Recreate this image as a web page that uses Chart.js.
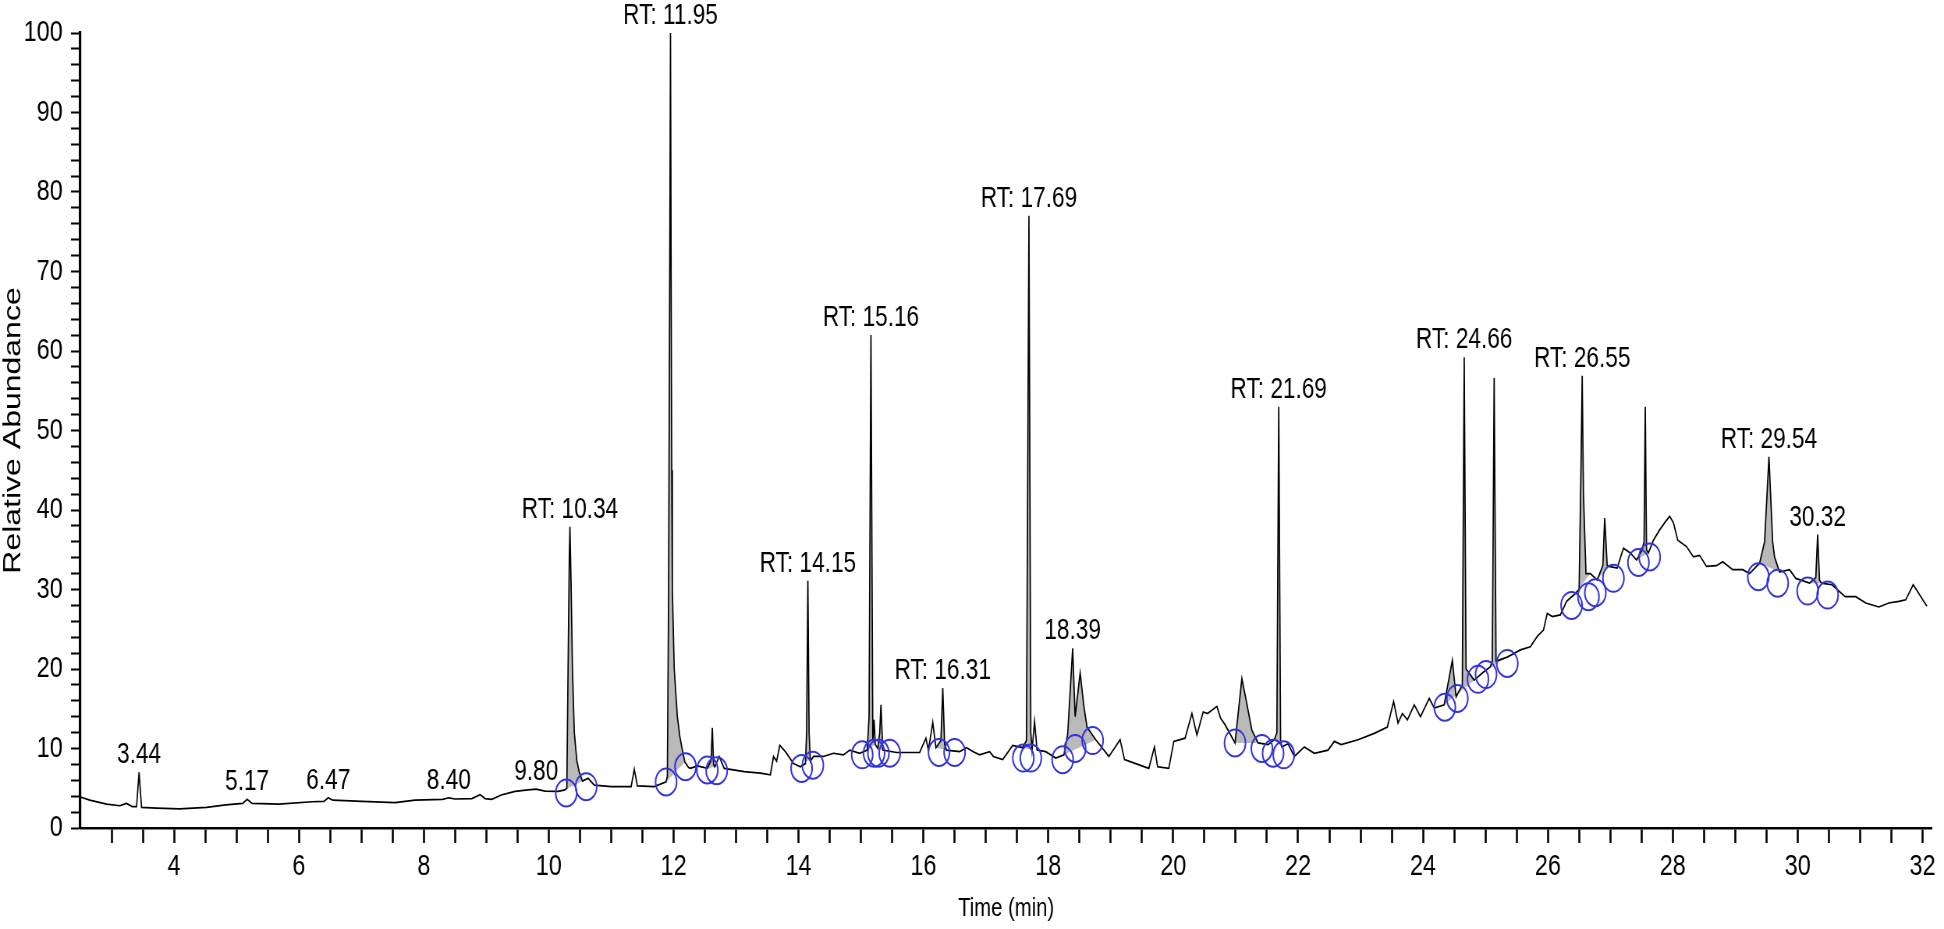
<!DOCTYPE html>
<html>
<head>
<meta charset="utf-8">
<title>Chromatogram</title>
<script src="https://cdn.jsdelivr.net/npm/chart.js@4.4.1/dist/chart.umd.min.js"></script>
<style>
    html, body { margin: 0; padding: 0; background: #fff; overflow: hidden; }
    #chart { display: block; }
</style>
</head>
<body>
<!-- the source picture is squeezed sideways, so draw wide and show it at 1944px -->
<canvas id="chart" width="2492" height="929" style="width:1944px;height:929px"></canvas>
<script>
// TIC trace: retention time (min) and relative abundance (%)
const timeMin = [
    2.50, 2.65, 2.92, 3.13, 3.24, 3.33, 3.40, 3.44, 3.48, 3.72,
    4.09, 4.52, 4.83, 5.10, 5.17, 5.25, 5.68, 6.21, 6.40, 6.47,
    6.54, 7.01, 7.54, 7.86, 8.30, 8.40, 8.50, 8.77, 8.90, 8.98,
    9.09, 9.24, 9.46, 9.67, 9.80, 9.94, 10.15, 10.26, 10.29, 10.31,
    10.33, 10.34, 10.36, 10.38, 10.41, 10.45, 10.49, 10.54, 10.63, 10.73,
    11.00, 11.32, 11.37, 11.42, 11.69, 11.88, 11.90, 11.92, 11.94, 11.95,
    11.96, 11.97, 11.98, 12.01, 12.06, 12.10, 12.14, 12.18, 12.24, 12.27,
    12.38, 12.54, 12.60, 12.62, 12.64, 12.66, 12.73, 12.81, 13.13, 13.39,
    13.55, 13.60, 13.65, 13.70, 13.79, 13.92, 14.03, 14.11, 14.13, 14.15,
    14.17, 14.19, 14.24, 14.40, 14.56, 14.72, 14.82, 14.98, 15.10, 15.13,
    15.16, 15.19, 15.21, 15.23, 15.27, 15.30, 15.32, 15.35, 15.57, 15.94,
    16.04, 16.08, 16.15, 16.20, 16.28, 16.31, 16.34, 16.37, 16.58, 16.69,
    16.80, 16.90, 17.06, 17.12, 17.27, 17.43, 17.59, 17.65, 17.69, 17.72,
    17.74, 17.78, 17.82, 17.96, 18.12, 18.25, 18.31, 18.39, 18.43, 18.51,
    18.57, 18.62, 18.76, 18.86, 18.97, 19.15, 19.22, 19.40, 19.61, 19.70,
    19.75, 19.93, 20.01, 20.19, 20.30, 20.38, 20.48, 20.55, 20.70, 20.76,
    20.83, 20.99, 21.10, 21.17, 21.26, 21.36, 21.52, 21.62, 21.66, 21.69,
    21.72, 21.74, 21.84, 21.94, 22.10, 22.26, 22.48, 22.58, 22.69, 22.96,
    23.22, 23.43, 23.53, 23.60, 23.67, 23.75, 23.86, 23.96, 24.10, 24.18,
    24.34, 24.47, 24.53, 24.63, 24.66, 24.69, 24.82, 24.95, 25.08, 25.11,
    25.14, 25.17, 25.35, 25.56, 25.72, 25.83, 25.93, 25.99, 26.07, 26.20,
    26.30, 26.44, 26.50, 26.53, 26.55, 26.57, 26.61, 26.68, 26.79, 26.88,
    26.91, 26.95, 26.98, 27.11, 27.21, 27.32, 27.42, 27.51, 27.54, 27.56,
    27.58, 27.61, 27.69, 27.79, 27.88, 27.95, 28.01, 28.08, 28.22, 28.33,
    28.43, 28.54, 28.70, 28.80, 28.96, 29.12, 29.23, 29.39, 29.47, 29.54,
    29.60, 29.63, 29.71, 29.87, 29.97, 30.19, 30.29, 30.32, 30.35, 30.38,
    30.55, 30.76, 30.93, 31.09, 31.30, 31.46, 31.62, 31.73, 31.85, 31.94,
    32.07
];
const abundance = [
    3.9, 3.5, 3.0, 2.8, 3.1, 2.7, 2.7, 7.0, 2.6, 2.5,
    2.4, 2.6, 2.9, 3.1, 3.6, 3.1, 3.0, 3.3, 3.35, 3.8,
    3.5, 3.35, 3.2, 3.5, 3.6, 3.8, 3.65, 3.7, 4.2, 3.7,
    3.6, 4.15, 4.6, 4.8, 4.9, 4.65, 4.6, 4.8, 5.0, 20,
    34, 37.9, 30, 20, 12, 8.5, 7.0, 5.9, 6.25, 5.4,
    5.2, 5.2, 7.4, 5.3, 5.2, 5.8, 6.5, 30, 75, 100,
    70, 45, 30, 20, 14, 11.5, 9.8, 8.3, 7.6, 7.5,
    7.8, 7.5, 8.5, 12.6, 8.0, 7.7, 9.0, 7.5, 7.1, 6.9,
    6.7, 9.0, 8.4, 10.4, 9.6, 8.1, 7.7, 8.1, 12, 31.1,
    12, 8.4, 9.0, 9.0, 9.4, 9.2, 9.8, 9.4, 9.8, 14,
    62, 11, 13.6, 10.5, 10.0, 12, 15.5, 9.8, 9.5, 9.5,
    11.3, 9.8, 13.3, 10.1, 11, 17.6, 10.5, 9.8, 9.6, 10.1,
    9.6, 9.2, 9.6, 9.0, 8.6, 10.4, 10.1, 11, 77, 12,
    9.8, 13.4, 9.8, 9.6, 8.8, 9.2, 11.8, 22.6, 14, 19.5,
    15.3, 12.7, 11.1, 10.1, 9.0, 11.1, 8.6, 8.1, 7.5, 10.2,
    7.7, 7.5, 10.9, 11.3, 14.4, 11.7, 14.6, 14.4, 15.3, 13.8,
    13.0, 10.7, 18.8, 16.0, 12.3, 10.7, 10.5, 11.1, 12, 53,
    11, 10.2, 10.6, 9.0, 10.2, 9.4, 9.8, 10.9, 10.5, 11.1,
    11.9, 12.7, 15.9, 13.2, 14.4, 13.6, 15.5, 14.0, 16.3, 15.1,
    15.5, 21.1, 16.5, 18, 59.2, 20, 18.6, 19.5, 20.3, 21,
    56.6, 21, 21.5, 22.4, 22.8, 24.1, 24.9, 27, 26.6, 26.8,
    28.5, 29.5, 30, 45, 56.9, 42, 32, 32, 31.2, 33,
    39, 33, 32.9, 32.7, 35.2, 34.6, 33.7, 35, 36, 53,
    35, 34.6, 36.2, 37.5, 38.5, 39.2, 38.4, 36.2, 35.4, 34.1,
    34.3, 32.9, 33.0, 33.5, 32.5, 32.5, 32.0, 33.3, 36, 46.7,
    36, 34.1, 32.2, 32.5, 31.4, 30.8, 31.5, 36.9, 31.2, 30.8,
    30.6, 29.1, 29.1, 28.3, 27.8, 28.3, 28.5, 28.7, 30.6, 29.5,
    27.9
];

// integration markers (blue circles)
const markerTimes = [
    10.28, 10.60, 11.88, 12.19, 12.54, 12.69, 14.05, 14.23, 15.02, 15.21,
    15.28, 15.46, 16.25, 16.50, 17.60, 17.72, 18.23, 18.43, 18.71, 20.99,
    21.42, 21.60, 21.77, 24.35, 24.55, 24.88, 25.01, 25.35, 26.38, 26.65,
    26.76, 27.05, 27.45, 27.63, 29.37, 29.68, 30.16, 30.48
];
const markerValues = [
    4.4, 5.2, 5.8, 7.7, 7.3, 7.2, 7.5, 7.9, 9.2, 9.4,
    9.4, 9.4, 9.5, 9.5, 8.8, 8.8, 8.6, 10.0, 11.0, 10.7,
    10.0, 9.4, 9.2, 15.2, 16.3, 18.7, 19.3, 20.7, 28.0, 29.1,
    29.6, 31.4, 33.4, 34.1, 31.6, 30.8, 29.8, 29.3
];

// integrated peaks, shaded grey from start to end
const peakStarts = [10.26, 11.88, 12.54, 14.03, 14.98, 15.27, 16.20, 17.59, 18.25, 20.99, 21.62, 24.34, 24.95, 26.44, 26.79, 27.42, 29.39, 30.19];
const peakEnds   = [10.63, 12.18, 12.66, 14.24, 15.23, 15.35, 16.37, 17.74, 18.76, 21.36, 21.74, 24.82, 25.35, 26.68, 26.98, 27.61, 29.71, 30.38];

// peak labels
const labelTimes = [3.44, 5.17, 6.47, 8.40, 9.80, 10.34, 11.95, 14.15, 15.16, 16.31, 17.69, 18.39, 21.69, 24.66, 26.55, 29.54, 30.32];
const labelTexts = ['3.44', '5.17', '6.47', '8.40', '9.80', 'RT: 10.34', 'RT: 11.95', 'RT: 14.15', 'RT: 15.16',
    'RT: 16.31', 'RT: 17.69', '18.39', 'RT: 21.69', 'RT: 24.66', 'RT: 26.55', 'RT: 29.54', '30.32'];

const FONT = '"Liberation Sans", Arial, sans-serif';

const tracePoints = timeMin.map((t, i) => ({ x: t, y: abundance[i] }));
const markerPoints = markerTimes.map((t, i) => ({ x: t, y: markerValues[i] }));

// each grey area is the trace between start and end, closed along the straight baseline
const peakSets = peakStarts.map((start, k) => ({
    data: tracePoints.filter(p => p.x >= start - 1e-9 && p.x <= peakEnds[k] + 1e-9).map(p => ({ x: p.x, y: p.y })),
    borderColor: 'rgba(0,0,0,0)',
    borderWidth: 0,
    backgroundColor: '#b9b9b9',
    fill: 'shape',
    pointRadius: 0,
    tension: 0
}));

// "RT: xx.xx" texts just above each labelled apex
const peakLabels = {
    id: 'peakLabels',
    afterDatasetsDraw(chart) {
        const { ctx, scales: { x, y } } = chart;
        ctx.save();
        ctx.font = '29px ' + FONT;
        ctx.fillStyle = '#000';
        ctx.textAlign = 'center';
        ctx.textBaseline = 'alphabetic';
        labelTimes.forEach((t, i) => {
            const top = abundance[timeMin.indexOf(t)];
            ctx.fillText(labelTexts[i], x.getPixelForValue(t), y.getPixelForValue(top) - 9);
        });
        ctx.restore();
    }
};

new Chart(document.getElementById('chart'), {
    type: 'line',
    data: {
        datasets: [
            {
                label: 'markers',
                data: markerPoints,
                showLine: false,
                pointStyle: 'circle',
                pointRadius: 13.5,
                pointBorderWidth: 2,
                pointBorderColor: '#3333dd',
                pointBackgroundColor: 'rgba(0,0,0,0)',
                clip: false
            },
            {
                label: 'TIC',
                data: tracePoints,
                borderColor: '#000',
                borderWidth: 1.7,
                pointRadius: 0,
                tension: 0,
                fill: false
            },
            ...peakSets
        ]
    },
    options: {
        responsive: false,
        animation: false,
        devicePixelRatio: 1,
        events: [],
        layout: { padding: { top: 33, right: 5, bottom: 0, left: 0 } },
        plugins: {
            legend: { display: false },
            tooltip: { enabled: false }
        },
        scales: {
            x: {
                type: 'linear',
                min: 2.5,
                max: 32.15,
                ticks: {
                    autoSkip: false,
                    maxRotation: 0,
                    padding: 6,
                    color: '#000',
                    font: { family: FONT, size: 30 },
                    callback: v => (v % 2 === 0 ? String(v) : '')
                },
                // a mark every half minute from 3 to 32, labels on even minutes
                afterBuildTicks: axis => {
                    const ticks = [];
                    for (let v = 3; v <= 32; v += 0.5) ticks.push({ value: v });
                    axis.ticks = ticks;
                },
                afterFit: axis => {
                    axis.height = 101;
                    axis.paddingLeft = 0;
                    axis.paddingRight = 0;
                },
                grid: { drawOnChartArea: false, drawTicks: true, tickLength: 15, tickWidth: 2.6, tickColor: '#000' },
                border: { display: true, color: '#000', width: 2.5 },
                title: {
                    display: true,
                    text: 'Time (min)',
                    color: '#000',
                    font: { family: FONT, size: 26 },
                    padding: { top: 0, bottom: 5 }
                }
            },
            y: {
                min: 0,
                max: 100,
                ticks: {
                    stepSize: 2,
                    autoSkip: false,
                    padding: 10.6,
                    color: '#000',
                    font: { family: FONT, size: 30 },
                    callback: v => (v % 10 === 0 ? String(v) : '')
                },
                afterFit: axis => {
                    axis.width = 103;
                    axis.paddingTop = 0;
                    axis.paddingBottom = 0;
                },
                grid: { drawOnChartArea: false, drawTicks: true, tickLength: 12, tickWidth: 2, tickColor: '#000' },
                border: { display: true, color: '#000', width: 3.2 },
                title: {
                    display: true,
                    text: 'Relative Abundance',
                    color: '#000',
                    font: { family: FONT, size: 32 },
                    padding: { top: -2, bottom: 0 }
                }
            }
        }
    },
    plugins: [peakLabels]
});
</script>
</body>
</html>
